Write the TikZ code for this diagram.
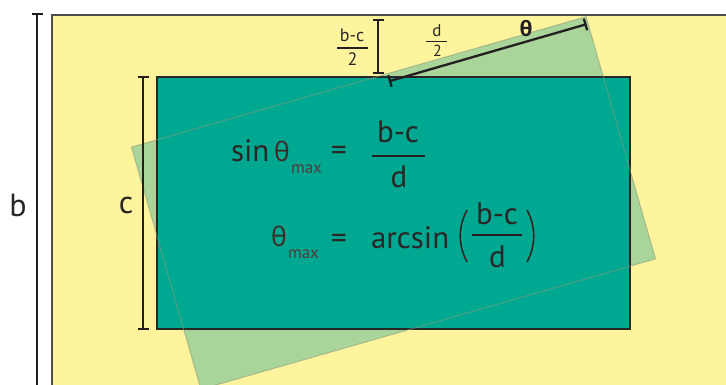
\documentclass[tikz,border=0pt]{standalone}
\usepackage{fontspec}
\setmainfont{PT Sans}
\newfontfamily\grfont{Open Sans}
\usetikzlibrary{calc}
\definecolor{bgyellow}{HTML}{FEF49E}
\definecolor{tealc}{HTML}{00A891}
\definecolor{greenc}{HTML}{A9D59A}
\definecolor{greenline}{HTML}{8E9A78}
\definecolor{txt}{HTML}{2A2626}
\definecolor{thc}{HTML}{432828}
\definecolor{maxc}{HTML}{553A3A}
\definecolor{dimc}{HTML}{231F20}
\begin{document}
\begin{tikzpicture}[x=1pt,y=-1pt,
  lab/.style={inner sep=0pt, outer sep=0pt, anchor=base, text=txt},
  dimline/.style={line width=2.3pt, draw=dimc},
  fracbar/.style={line width=1.8pt, draw=dimc},
  big/.style={font=\fontsize{32}{36}\selectfont},
  eq/.style={font=\fontsize{31}{36}\selectfont},
  sub/.style={font=\fontsize{17}{19}\selectfont, text=maxc},
  th/.style={font=\grfont\fontsize{26.5}{29}\selectfont, text=thc},
  small/.style={font=\fontsize{18}{20}\selectfont}]
\useasboundingbox (0,0) rectangle (726,385);
% yellow background
\fill[bgyellow] (52,15) rectangle (726,385);
\draw[line width=2.4pt, draw=dimc!80] (52,390) -- (52,15) -- (730,15);
% tilted green rectangle
\coordinate (g1) at (131.5,147.1);
\coordinate (g2) at (586.1,16.7);
\coordinate (g3) at (655.5,258.9);
\coordinate (g4) at (200.9,389.3);
\fill[greenc] (g1) -- (g2) -- (g3) -- (g4) -- cycle;
% teal rectangle
\fill[tealc] (157,77) rectangle (630,329);
\draw[line width=1.8pt, draw=black!85] (157,77) rectangle (630,329);
% outline of the tilted rectangle
\draw[line width=1pt, draw=greenline, opacity=0.55] (g1) -- (g2) -- (g3) -- (g4) -- cycle;
% dimension b
\coordinate (b1) at (37,14);
\coordinate (b2) at (37,392);
\draw[dimline] (b1) -- (b2);
\draw[dimline] ($(b1)+(-5.5,0)$) -- ($(b1)+(5.5,0)$);
\node[lab, big] (lb) at (18,216) {b};
% dimension c
\coordinate (c1) at (143,77);
\coordinate (c2) at (143,329);
\draw[dimline] (c1) -- (c2);
\draw[dimline] ($(c1)+(-5.5,0)$) -- ($(c1)+(5.5,0)$);
\draw[dimline] ($(c2)+(-5.5,0)$) -- ($(c2)+(5.5,0)$);
\node[lab, big] (lc) at (126,213) {c};
% dimension (b-c)/2
\coordinate (h1) at (378,20);
\coordinate (h2) at (378,73);
\draw[dimline] (h1) -- (h2);
\draw[dimline] ($(h1)+(-5.5,0)$) -- ($(h1)+(5.5,0)$);
\draw[dimline] ($(h2)+(-5.5,0)$) -- ($(h2)+(5.5,0)$);
\node[lab, small] (hn) at (352,42) {b-c};
\draw[fracbar, line width=1.5pt] (337,48) -- (368,48);
\node[lab, small] (hd) at (352.5,66) {2};
% dimension d/2
\coordinate (d1) at (390,81);
\coordinate (d2) at (585.5,24.5);
\draw[dimline] (d1) -- (d2);
\draw[dimline] ($(d1)+(-1.66,-5.8)$) -- ($(d1)+(1.66,5.8)$);
\draw[dimline] ($(d2)+(-1.66,-5.8)$) -- ($(d2)+(1.66,5.8)$);
\node[lab, font=\fontsize{17}{19}\selectfont] (dn) at (437,37) {d};
\draw[fracbar, line width=1.5pt] (426,41.5) -- (447,41.5);
\node[lab, font=\fontsize{16}{18}\selectfont] (dd) at (437.5,57) {2};
\node[lab, font=\grfont\bfseries\fontsize{21}{23}\selectfont, text=dimc] (lt) at (526,37) {θ};
% equation 1
\node[lab, eq, anchor=base west] (sin1) at (231,162) {sin};
\node[lab, th, anchor=base west] (th1) at (274,162) {θ};
\node[lab, sub, anchor=base west] (mx1) at (291,174) {max};
\node[lab, eq] (eq1) at (339,161) {=};
\node[lab, eq] (n1) at (398,143) {b-c};
\draw[fracbar] (372,156) -- (425,156);
\node[lab, eq] (dd1) at (399,188) {d};
% equation 2
\node[lab, th, anchor=base west] (th2) at (271,246) {θ};
\node[lab, sub, anchor=base west] (mx2) at (288,258) {max};
\node[lab, eq] (eq2) at (339,248) {=};
\node[lab, eq, anchor=base west] (arc) at (371,248) {arcsin};
\draw[line width=1.6pt, draw=txt] (467,210) .. controls (458,227) and (458,245) .. (467,262);
\draw[line width=1.6pt, draw=txt] (527,210) .. controls (536,227) and (536,245) .. (527,262);
\node[lab, eq] (n2) at (497,225) {b-c};
\draw[fracbar] (472,235) -- (522,235);
\node[lab, eq] (dd2) at (497.5,267) {d};
\end{tikzpicture}
\end{document}
